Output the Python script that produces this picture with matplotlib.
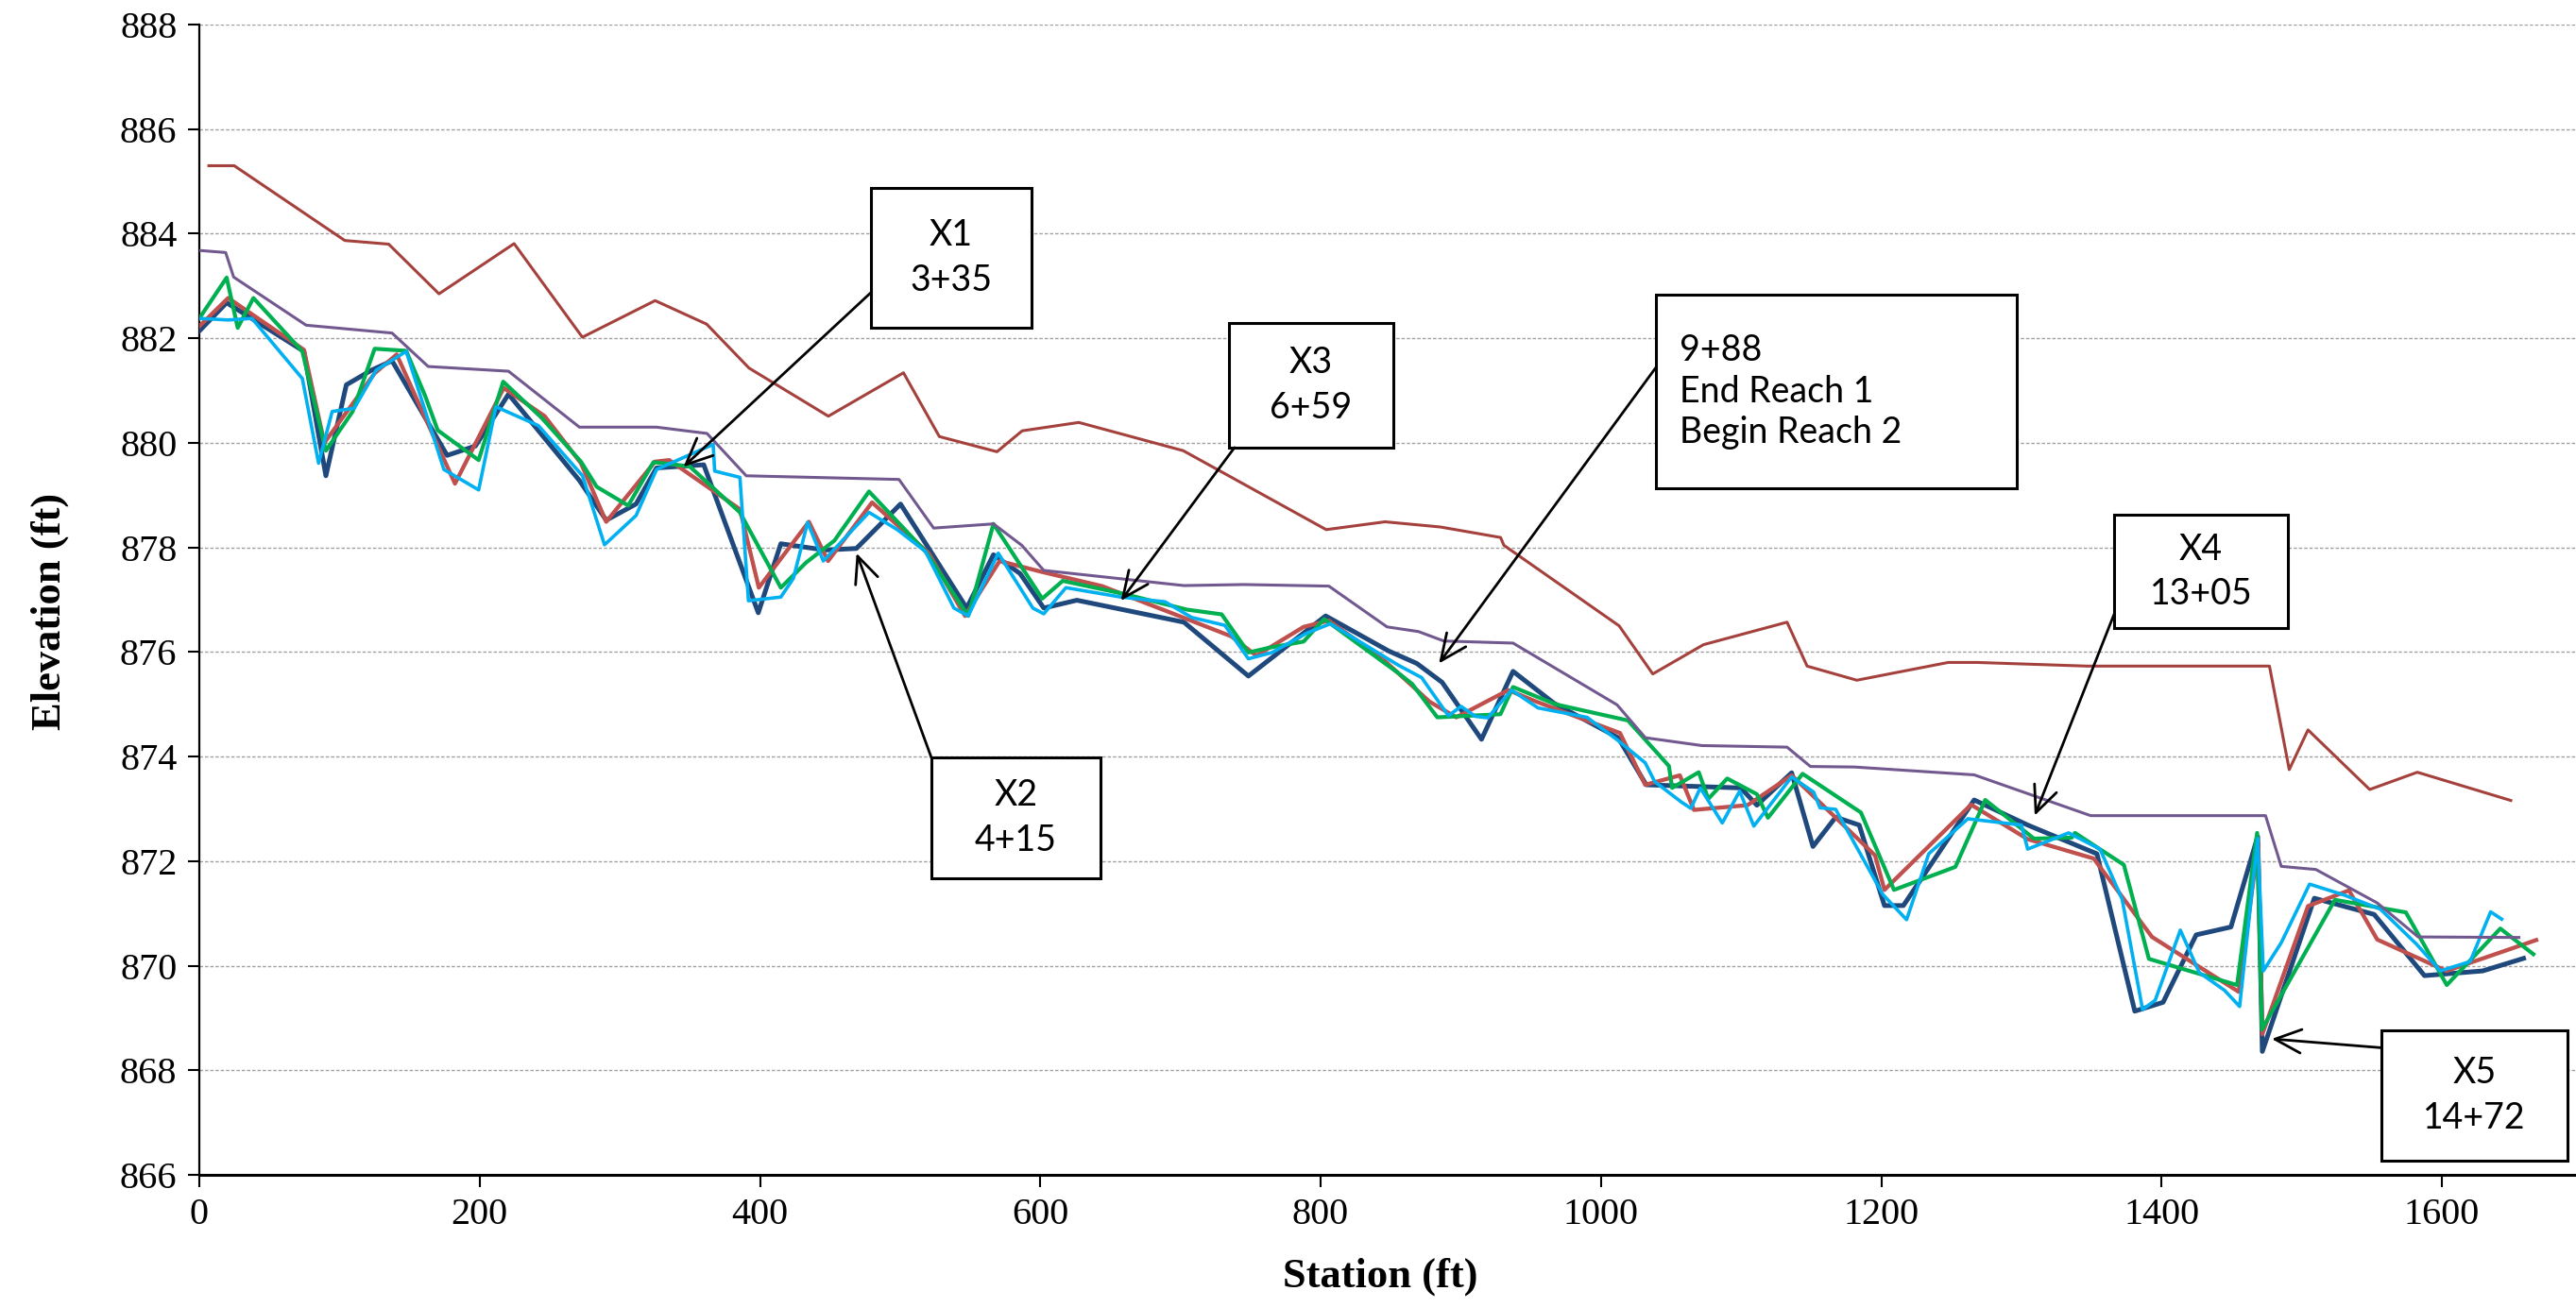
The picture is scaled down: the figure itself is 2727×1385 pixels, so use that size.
import matplotlib
matplotlib.use('Agg')
import matplotlib.pyplot as plt
from matplotlib.patches import Rectangle

# survey lines (station ft, elevation ft)
sta_blue = [0, 19.5, 74.6, 90.3, 104.9, 122.9, 137.5, 176.8, 197, 220.6, 271.2, 290.3, 311.6, 326.2, 359.9,
            398.8, 414.9, 446.4, 468.8, 500.3, 547.5, 566.6, 585.6, 602.5, 626.1, 702.5, 748.5, 803.6, 848.5,
            868.7, 886.7, 914.8, 937.3, 966.5, 1012.3, 1032.3, 1099.8, 1111.3, 1136.1, 1151.3, 1167.5, 1184.3,
            1202.3, 1215.8, 1266.3, 1304.5, 1353.9, 1380.9, 1401.1, 1424.7, 1449.5, 1468.6, 1471.9, 1509.0,
            1551.7, 1587.6, 1629.1, 1658.3]
elev_blue = [882.14, 882.68, 881.75, 879.37, 881.11, 881.39, 881.57, 879.76, 879.94, 880.93, 879.28, 878.52,
             878.83, 879.52, 879.58, 876.75, 878.07, 877.95, 877.98, 878.83, 876.84, 877.86, 877.5, 876.84,
             876.99, 876.57, 875.54, 876.69, 876.02, 875.78, 875.42, 874.33, 875.63, 875.02, 874.36, 873.46,
             873.40, 873.07, 873.69, 872.28, 872.84, 872.69, 871.15, 871.15, 873.17, 872.69, 872.14, 869.13,
             869.30, 870.59, 870.74, 872.47, 868.36, 871.29, 870.98, 869.81, 869.90, 870.14]

sta_red = [0, 20.6, 74.6, 89.2, 125.1, 140.8, 182.4, 217.2, 246.4, 272.3, 290.3, 325.1, 335.2, 385.7, 399.2,
           434.9, 448.6, 480.0, 520.4, 546.3, 571.0, 601.4, 644.1, 704.7, 736.2, 754.2, 787.9, 805.9, 845.0,
           877.7, 896.8, 933.9, 954.0, 1013.6, 1031.6, 1056.3, 1066.4, 1104.6, 1136.1, 1195.6, 1202.3, 1264.1,
           1304.5, 1351.6, 1393.2, 1455.1, 1469.0, 1471.9, 1504.5, 1533.7, 1553.9, 1603.3, 1667.3]
elev_red = [882.23, 882.77, 881.78, 880.0, 881.33, 881.69, 879.22, 881.05, 880.51, 879.61, 878.49, 879.64,
            879.67, 878.73, 877.23, 878.49, 877.74, 878.86, 877.89, 876.69, 877.74, 877.53, 877.26, 876.63,
            876.30, 875.93, 876.48, 876.60, 875.85, 875.05, 874.75, 875.27, 875.05, 874.45, 873.46, 873.64,
            872.98, 873.07, 873.64, 872.11, 871.45, 873.08, 872.42, 872.05, 870.55, 869.50, 872.34, 868.69,
            871.14, 871.44, 870.50, 869.90, 870.49]

sta_green = [0, 19.5, 27.4, 38.6, 73.5, 90.3, 109.4, 125.1, 147.6, 161.1, 170.1, 199.3, 216.8, 244.2, 272.3,
             283.5, 306.0, 324.0, 349.8, 385.7, 414.9, 432.9, 453.1, 477.8, 518.2, 548.6, 566.6, 601.4, 616.0,
             659.8, 704.7, 729.4, 748.5, 763.1, 787.9, 802.5, 855.3, 865.3, 883.3, 928.3, 937.3, 967.6, 1019.3,
             1048.5, 1050.8, 1069.8, 1076.6, 1090.1, 1111.3, 1119.2, 1143.9, 1185.5, 1209.1, 1252.9, 1274.2,
             1309.0, 1336.0, 1338.2, 1373.1, 1391.0, 1453.9, 1468.2, 1471.6, 1523.7, 1574.3, 1603.5, 1641.7,
             1665.3]
elev_green = [882.38, 883.16, 882.2, 882.77, 881.75, 879.85, 880.6, 881.80, 881.76, 880.9, 880.24, 879.67,
              881.17, 880.48, 879.64, 879.16, 878.8, 879.63, 879.55, 878.67, 877.23, 877.71, 878.13, 879.07,
              877.92, 876.69, 878.45, 877.02, 877.36, 877.11, 876.81, 876.72, 875.99, 876.08, 876.2, 876.63,
              875.60, 875.39, 874.75, 874.81, 875.33, 875.0, 874.69, 873.82, 873.40, 873.70, 873.19, 873.58,
              873.28, 872.83, 873.67, 872.93, 871.45, 871.89, 873.17, 872.43, 872.45, 872.54, 871.93, 870.13,
              869.63, 872.54, 868.78, 871.26, 871.02, 869.63, 870.71, 870.22]

sta_cyan = [0, 20.7, 37.5, 73.5, 85.1, 94.8, 110.5, 126.2, 147.6, 174.5, 199.3, 211.6, 241.9, 273.4, 289.1,
            311.6, 326.2, 366.6, 367.7, 385.7, 391.8, 414.9, 423.9, 434.0, 445.2, 477.8, 498.0, 518.2, 538.4,
            548.6, 570.0, 594.7, 602.5, 618.3, 657.6, 689.0, 708.1, 731.7, 748.5, 765.4, 790.1, 807.0, 855.3,
            872.1, 891.2, 900.2, 910.3, 919.3, 936.2, 955.2, 990.1, 1012.6, 1031.6, 1038.4, 1057.4, 1064.2,
            1070.9, 1086.6, 1099.0, 1109.1, 1136.1, 1151.8, 1156.3, 1167.5, 1201.2, 1218.1, 1233.9, 1261.8,
            1300.0, 1304.5, 1333.7, 1356.1, 1371.9, 1386.5, 1395.5, 1413.4, 1426.9, 1444.9, 1455.7, 1468.6,
            1472.6, 1485.4, 1505.6, 1530.4, 1556.2, 1582.0, 1598.9, 1620.2, 1634.8, 1642.7]
elev_cyan = [882.38, 882.35, 882.38, 881.23, 879.61, 880.6, 880.66, 881.39, 881.75, 879.49, 879.1, 880.69,
             880.33, 879.37, 878.05, 878.61, 879.49, 879.97, 879.46, 879.34, 876.98, 877.05, 877.41, 878.48,
             877.74, 878.67, 878.34, 877.92, 876.84, 876.69, 877.89, 876.84, 876.73, 877.23, 877.05, 876.96,
             876.66, 876.51, 875.87, 875.99, 876.36, 876.54, 875.75, 875.51, 874.78, 874.96, 874.77, 874.74,
             875.27, 874.93, 874.75, 874.30, 873.88, 873.52, 873.13, 873.01, 873.40, 872.73, 873.34, 872.67,
             873.61, 873.32, 873.02, 872.99, 871.36, 870.88, 872.14, 872.81, 872.69, 872.23, 872.54, 872.23,
             871.27, 869.16, 869.34, 870.68, 869.87, 869.53, 869.22, 872.43, 869.90, 870.44, 871.56, 871.35,
             871.08, 870.41, 869.90, 870.08, 871.03, 870.89]

sta_purple = [0, 18.8, 24.5, 76.2, 137.5, 163.3, 220.6, 271.2, 326.2, 362.2, 390.2, 499.2, 523.9, 566.6,
              586.8, 602.5, 702.5, 745.2, 805.9, 847.4, 869.9, 887.9, 937.3, 1011.5, 1031.7, 1072.1, 1132.8,
              1149.5, 1181.0, 1266.3, 1349.4, 1474.2, 1485.4, 1510.1, 1553.9, 1583.1, 1655.0]
elev_purple = [883.68, 883.64, 883.17, 882.25, 882.10, 881.46, 881.37, 880.30, 880.30, 880.18, 879.37,
               879.30, 878.37, 878.45, 878.04, 877.56, 877.27, 877.29, 877.26, 876.48, 876.39, 876.21, 876.17,
               874.99, 874.36, 874.21, 874.18, 873.81, 873.80, 873.65, 872.87, 872.87, 871.90, 871.84, 871.20,
               870.55, 870.54]

sta_top = [6.8, 24.9, 103.8, 135.1, 171.0, 224.6, 273.3, 325.2, 362.0, 392.2, 448.8, 502.4, 528.0, 569.1,
           587.1, 627.5, 702.0, 804.0, 846.0, 885.6, 928.4, 930.8, 1013.0, 1037.0, 1073.2, 1132.8, 1147.1,
           1182.6, 1247.8, 1268.3, 1347.0, 1477.0, 1491.1, 1504.5, 1548.5, 1582.5, 1649.2]
elev_top = [885.3, 885.3, 883.87, 883.80, 882.85, 883.81, 882.02, 882.72, 882.27, 881.43, 880.51, 881.34,
            880.12, 879.83, 880.23, 880.39, 879.85, 878.34, 878.49, 878.39, 878.19, 878.04, 876.5, 875.58,
            876.14, 876.57, 875.73, 875.46, 875.80, 875.80, 875.73, 875.73, 873.75, 874.51, 873.37, 873.70,
            873.16]

# cross section callouts: text, box (x0, x1, y0, y1), arrow start, arrow tip
callout_text = ['X1\n3+35', 'X3\n6+59', '9+88\nEnd Reach 1\nBegin Reach 2', 'X4\n13+05', 'X2\n4+15', 'X5\n14+72']
callout_box = [(479.0, 593.8, 882.20, 884.87), (734.5, 851.7, 879.91, 882.30), (1039.2, 1297.0, 879.13, 882.83),
               (1366.1, 1490.1, 876.45, 878.62), (522.3, 642.9, 871.68, 873.98), (1556.8, 1689.6, 866.27, 868.77)]
callout_start = [(479.0, 882.87), (738.6, 879.91), (1039.2, 881.44), (1366.1, 876.72), (522.3, 873.98),
                 (1557.2, 868.43)]
callout_tip = [(345.4, 879.54), (657.5, 876.98), (884.4, 875.78), (1309.5, 872.87), (468.9, 877.89),
               (1478.6, 868.6)]

plt.rcParams['font.family'] = ['Liberation Serif', 'DejaVu Serif']

fig = plt.figure(figsize=(27.27, 13.85), dpi=100)
ax = fig.add_axes([211 / 2727, 141 / 1385, 2516 / 2727, 1218 / 1385])

ax.plot(sta_blue, elev_blue, color='#1F497D', lw=3.6, zorder=3)
ax.plot(sta_red, elev_red, color='#C0504D', lw=3.1, zorder=3)
ax.plot(sta_green, elev_green, color='#00B050', lw=3.0, zorder=3)
ax.plot(sta_cyan, elev_cyan, color='#00B0F0', lw=2.6, zorder=3)
ax.plot(sta_purple, elev_purple, color='#71588F', lw=2.2, zorder=3)
ax.plot(sta_top, elev_top, color='#A5413D', lw=2.2, zorder=3)

ax.set_xlim(0, 1695.7)
ax.set_ylim(866, 888)
ax.set_xticks(range(0, 1601, 200))
ax.set_yticks(range(866, 889, 2))
ax.tick_params(axis='both', direction='out', length=9, width=1.5, labelsize=29, pad=8, color='black')
ax.grid(axis='y', color='#a0a0a0', lw=1.0, linestyle=(0, (2.5, 1.5)), zorder=0)
ax.set_axisbelow(True)

for side in ['top', 'right']:
	ax.spines[side].set_visible(False)
ax.spines['left'].set_linewidth(1.6)
ax.spines['bottom'].set_linewidth(2.2)

ax.set_xlabel('Station (ft)', fontsize=32, fontweight='bold')
ax.set_ylabel('Elevation (ft)', fontsize=32, fontweight='bold')
ax.xaxis.set_label_coords(0.497, -0.072)
ax.yaxis.set_label_coords(-0.055, 0.49)

for txt, box, start, tip in zip(callout_text, callout_box, callout_start, callout_tip):
	x0, x1, y0, y1 = box
	ax.add_patch(Rectangle((x0, y0), x1 - x0, y1 - y0, facecolor='white', edgecolor='black', lw=2.2,
	                       zorder=5, clip_on=False))
	if txt.startswith('9+88'):
		ax.text(x0 + 0.065 * (x1 - x0), (y0 + y1) / 2, txt, ha='left', va='center', fontsize=27,
		        family='Lato', linespacing=1.25, zorder=6)
	else:
		ax.text((x0 + x1) / 2, (y0 + y1) / 2, txt, ha='center', va='center', fontsize=27,
		        family='Lato', linespacing=1.4, zorder=6)
	ax.annotate('', xy=tip, xytext=start,
	            arrowprops=dict(arrowstyle='->,head_length=1.0,head_width=0.45', color='black', lw=2.0,
	                            shrinkA=0, shrinkB=0, mutation_scale=20), zorder=6)

fig.savefig('out.png', dpi=100)
